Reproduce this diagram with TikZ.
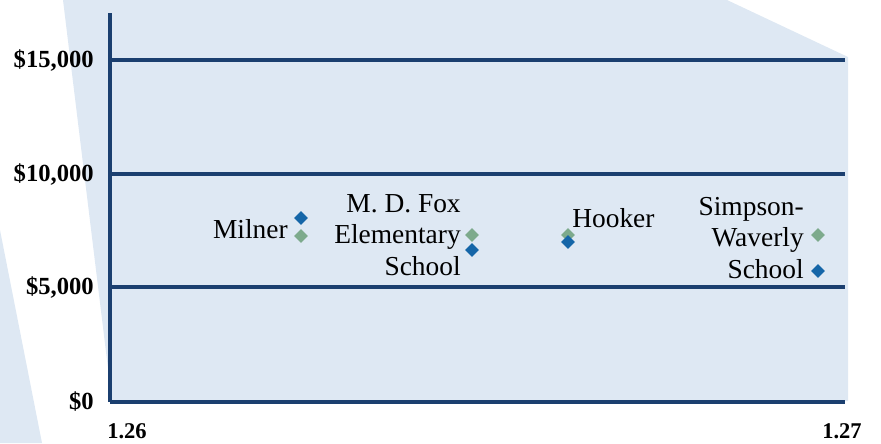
\documentclass[tikz,border=0pt]{standalone}
\usepackage{fontspec}
\setmainfont{Liberation Serif}
\usetikzlibrary{shapes.geometric}
\definecolor{panel}{HTML}{DEE8F3}
\definecolor{axisblue}{HTML}{1B3F6F}
\definecolor{seriesa}{HTML}{1566A8}
\definecolor{seriesb}{HTML}{7DAA8C}
\tikzset{
  grid line/.style={draw=axisblue, line width=2.5pt},
  dot/.style={diamond, fill=#1, inner sep=0pt, minimum width=0.35cm, minimum height=0.35cm},
  school/.style={font=\fontsize{19.5}{22.4}\selectfont, inner sep=0pt, align=right},
  tick/.style={font=\fontsize{17.5}{20}\selectfont\bfseries, inner sep=0pt}
}
\begin{document}
\begin{tikzpicture}[x=0.025cm, y=-0.025cm]
    \useasboundingbox (0,0) rectangle (881,443);
    \fill[panel] (63,0) -- (727,0) -- (848,57) -- (848,401) -- (112,401) -- cycle;
    \fill[panel] (0,230) -- (42,443) -- (0,443) -- cycle;

    \coordinate (top) at (110,13);
    \coordinate (origin) at (110,402);
    \foreach \name/\ypos/\text in {y0/402/{\$0}, y5/287/{\$5,000}, y10/174/{\$10,000}, y15/60/{\$15,000}} {
      \node[tick, anchor=east] (\name) at (94,\ypos) {\text};
      \coordinate (\name l) at (110,\ypos);
      \coordinate (\name r) at (845,\ypos);
      \draw[grid line] (\name l) -- (\name r);
    }
    \draw[grid line] (top) -- (origin);
    \node[tick, font=\fontsize{16}{19}\selectfont\bfseries] (xmin) at (127,431) {1.26};
    \node[tick, font=\fontsize{16}{19}\selectfont\bfseries] (xmax) at (842,431) {1.27};

    \foreach \name/\xpos/\ya/\yb in {milner/301/218/236, fox/472/250/235, hooker/568/242/235, simpson/818/271/235} {
      \node[dot=seriesb] (\name b) at (\xpos,\yb) {};
      \node[dot=seriesa] (\name a) at (\xpos,\ya) {};
    }

    \node[school, anchor=east] (milner) at (288,229) {Milner};
    \node[school, anchor=east] (fox) at (461,235) {M. D. Fox\\Elementary\\School};
    \node[school, anchor=west] (hooker) at (572,218) {Hooker};
    \node[school, anchor=east] (simpson) at (804,238) {Simpson-\\Waverly\\School};
\end{tikzpicture}
\end{document}
